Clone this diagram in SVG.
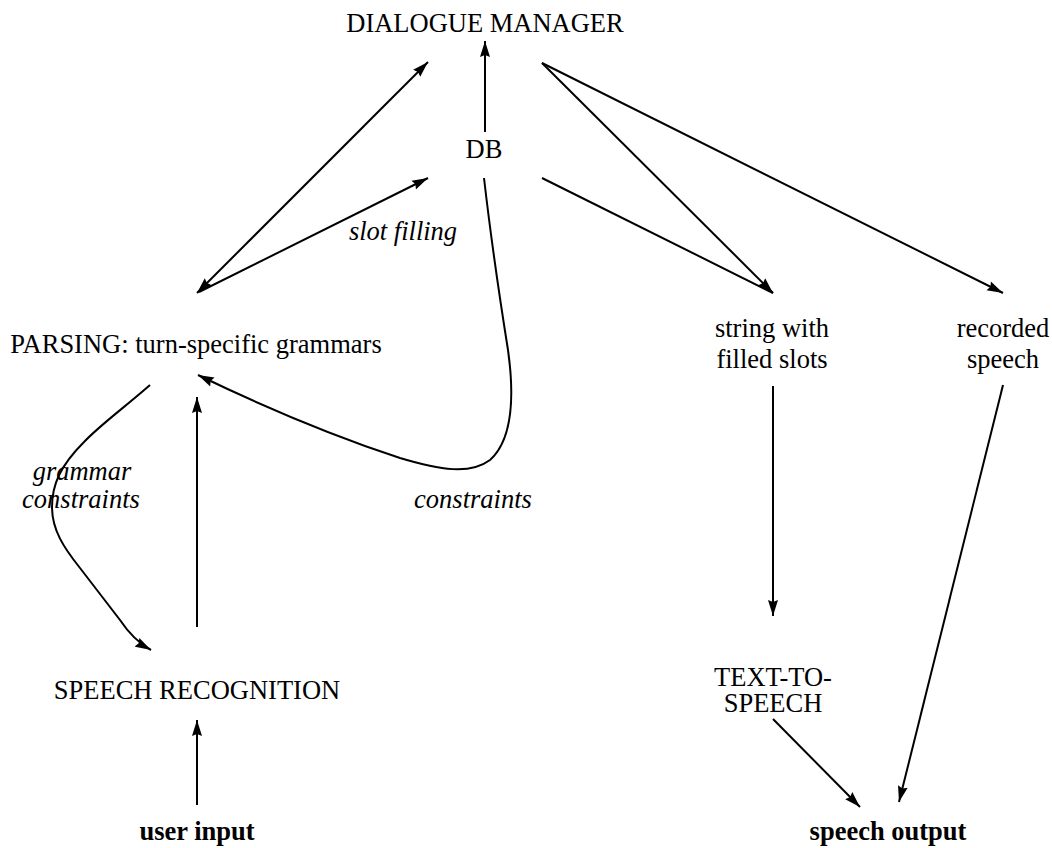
<svg xmlns="http://www.w3.org/2000/svg" width="1052" height="848" viewBox="0 0 1052 848">
<style>
text{font-family:"Liberation Serif","Times New Roman",serif;font-size:26.5px;fill:#000;text-anchor:middle}
.it{font-style:italic}
.bd{font-weight:bold}
.c{fill:none;stroke:#000;stroke-width:2}
</style>
<defs>
<marker id="ah" markerUnits="userSpaceOnUse" markerWidth="17" markerHeight="11" refX="16" refY="5.5" orient="auto-start-reverse" viewBox="0 0 17 11">
<path d="M0,0.5 L16,5.5 L0,10.5 L2,5.5 z" fill="#000"/>
</marker>
</defs>
<rect width="1052" height="848" fill="#fff"/>
<g id="connectors">
<line class="c" x1="485" y1="132" x2="485" y2="41" marker-end="url(#ah)"/>
<line class="c" x1="197" y1="293" x2="428" y2="62" marker-start="url(#ah)" marker-end="url(#ah)"/>
<line class="c" x1="199" y1="292" x2="428" y2="178" marker-end="url(#ah)"/>
<path class="c" d="M484,178 C490,230 500,300 508,350 C515,400 512,440 490,460 C470,475 440,470 400,458 C330,435 260,405 198,375" marker-end="url(#ah)"/>
<path class="c" d="M150,385 C125,407 100,425 84,442 C60,466 52,485 52,507 C52,530 64,548 80,568 L120,620 C130,635 140,644 151,650" marker-end="url(#ah)"/>
<line class="c" x1="197" y1="627" x2="197" y2="397" marker-end="url(#ah)"/>
<line class="c" x1="197" y1="805" x2="197" y2="720" marker-end="url(#ah)"/>
<line class="c" x1="542" y1="63" x2="773" y2="293" marker-end="url(#ah)"/>
<line class="c" x1="542" y1="178" x2="773" y2="293"/>
<line class="c" x1="542" y1="63" x2="1003" y2="293" marker-end="url(#ah)"/>
<line class="c" x1="773" y1="386" x2="773" y2="616" marker-end="url(#ah)"/>
<line class="c" x1="1003" y1="385" x2="899" y2="802" marker-end="url(#ah)"/>
<line class="c" x1="773" y1="719" x2="860" y2="807" marker-end="url(#ah)"/>
</g>
<g id="labels">
<text class="it" x="403" y="240">slot filling</text>
<text class="it" x="82" y="480">grammar</text>
<text class="it" x="81" y="508">constraints</text>
<text class="it" x="473" y="508">constraints</text>
</g>
<g id="dialogue-manager"><text x="485" y="32">DIALOGUE MANAGER</text></g>
<g id="db"><text x="484" y="158">DB</text></g>
<g id="parsing"><text x="196" y="353">PARSING: turn-specific grammars</text></g>
<g id="speech-recognition"><text x="197" y="699">SPEECH RECOGNITION</text></g>
<g id="user-input"><text class="bd" x="197" y="840">user input</text></g>
<g id="string-slots"><text x="772" y="337">string with</text><text x="772" y="368">filled slots</text></g>
<g id="recorded-speech"><text x="1003" y="337">recorded</text><text x="1003" y="368">speech</text></g>
<g id="tts"><text x="773" y="686">TEXT-TO-</text><text x="773" y="712">SPEECH</text></g>
<g id="speech-output"><text class="bd" x="888" y="840">speech output</text></g>
</svg>
